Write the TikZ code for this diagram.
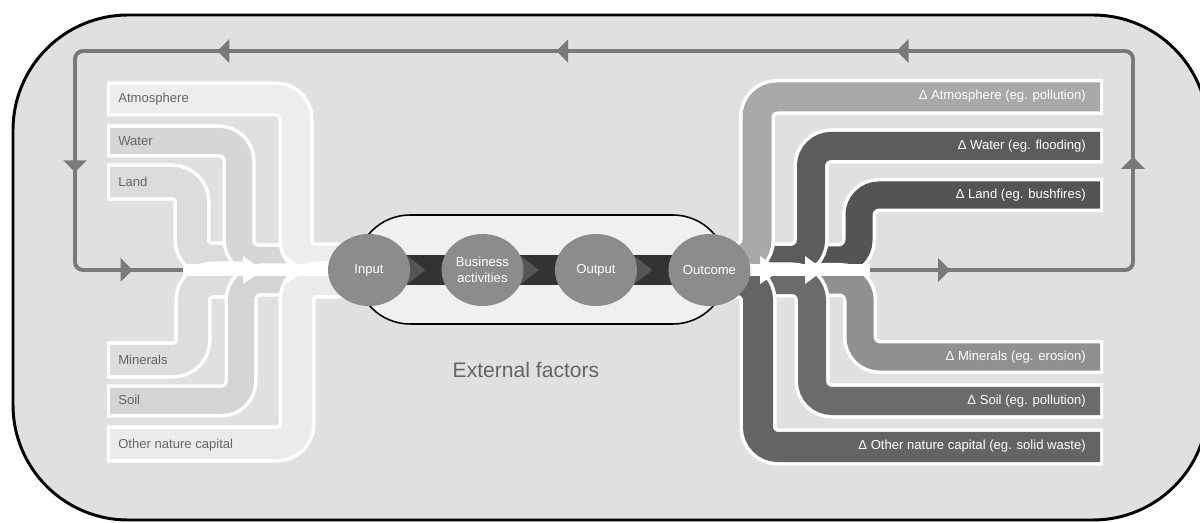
\documentclass[tikz,border=0pt]{standalone}
\usepackage{fontspec}
\setmainfont{Liberation Sans}
\usetikzlibrary{arrows.meta,calc,positioning,shapes.geometric,decorations.markings,backgrounds}

\definecolor{boxfill}{HTML}{E0E0E0}
\definecolor{loopgray}{HTML}{7A7A7A}
\definecolor{stagegray}{HTML}{8C8C8C}
\definecolor{darkband}{HTML}{333333}
\definecolor{chevgray}{HTML}{555555}
\definecolor{capsfill}{HTML}{F0F0F0}
\definecolor{labelgray}{HTML}{666666}
% inflow colours
\definecolor{inatmo}{HTML}{EDEDED}
\definecolor{inwater}{HTML}{D6D6D6}
\definecolor{inland}{HTML}{DCDCDC}
\definecolor{inmineral}{HTML}{DDDDDD}
\definecolor{insoil}{HTML}{D4D4D4}
\definecolor{inother}{HTML}{EBEBEB}
% outflow colours
\definecolor{outatmo}{HTML}{A9A9A9}
\definecolor{outwater}{HTML}{5C5C5C}
\definecolor{outland}{HTML}{545454}
\definecolor{outmineral}{HTML}{909090}
\definecolor{outsoil}{HTML}{6B6B6B}
\definecolor{outother}{HTML}{646464}

\tikzset{
  outerbox/.style={draw=black, fill=boxfill, line width=2.1pt, rounded corners=81.8pt},
  loopline/.style={draw=loopgray, line width=2.8pt, rounded corners=5.7pt,
    decoration={markings,
      mark=at position 57pt with {\arrow{Triangle[length=8.5pt,width=16.4pt,color=loopgray]}},
      mark=at position 265pt with {\arrow{Triangle[length=8.5pt,width=16.4pt,color=loopgray]}},
      mark=at position 506pt with {\arrow{Triangle[length=8.5pt,width=16.4pt,color=loopgray]}},
      mark=at position 748pt with {\arrow{Triangle[length=8.5pt,width=16.4pt,color=loopgray]}},
      mark=at position 989pt with {\arrow{Triangle[length=8.5pt,width=16.4pt,color=loopgray]}},
      mark=at position 1174pt with {\arrow{Triangle[length=8.5pt,width=16.4pt,color=loopgray]}},
      mark=at position 1282pt with {\arrow{Triangle[length=8.5pt,width=16.4pt,color=loopgray]}}},
    postaction={decorate}},
  capsule/.style={draw=black, fill=capsfill, line width=1.1pt, rounded corners=38.5pt},
  stage/.style={ellipse, fill=stagegray, text=white, minimum width=58.3pt, minimum height=51.2pt,
    inner sep=0pt, align=center, font=\fontsize{9.3}{11.2}\selectfont},
  inlabel/.style={anchor=west, text=labelgray, inner sep=0pt, font=\fontsize{9.3}{11}\selectfont},
  outlabel/.style={anchor=east, text=white, inner sep=0pt, font=\fontsize{9.3}{11}\selectfont},
  extlabel/.style={text=labelgray, inner sep=0pt, font=\fontsize{15}{18}\selectfont},
}

% band: colour, width (px), row y, bend x, stub y, stub end x
\newcommand{\inband}[6]{%
  \draw[white, line width=(#2+7)*0.7113pt, rounded corners=14.2pt] (107,#3) -| (#4,#5) -- (#6,#5);
  \draw[#1, line width=#2*0.7113pt, rounded corners=14.2pt] (110,#3) -| (#4,#5) -- (#6,#5);}
\newcommand{\outband}[6]{%
  \draw[white, line width=(#2+7)*0.7113pt, rounded corners=14.2pt] (1103,#3) -| (#4,#5) -- (#6,#5);
  \draw[#1, line width=#2*0.7113pt, rounded corners=14.2pt] (1100,#3) -| (#4,#5) -- (#6,#5);}

\begin{document}
\begin{tikzpicture}[x=0.025cm, y=-0.025cm]
\useasboundingbox (0,0) rectangle (1200,523);

\begin{scope}[on background layer]
% outer frame
\draw[outerbox] (13,15) rectangle (1208,520);

% feedback loop
\coordinate (loopout) at (870,270);
\coordinate (loopin) at (183,270);
\draw[loopline] (loopout) -- (1133,270) -- (1133,51) -- (75,51) -- (75,270) -- (loopin);

% nature capital in
\inband{inland}{30}{182}{192}{260}{248}
\inband{inwater}{26}{141}{239}{260}{292}
\inband{inatmo}{28}{99}{296}{260}{345}
\inband{inmineral}{30}{360}{193}{280}{248}
\inband{insoil}{26}{401}{241}{280}{292}
\inband{inother}{30}{444}{297}{280}{345}

% impacts out
\outband{outland}{27}{195}{859}{260}{812}
\outband{outwater}{28}{146}{811}{260}{766}
\outband{outatmo}{29}{97}{757}{260}{735}
\outband{outmineral}{27}{357}{860}{280}{812}
\outband{outsoil}{28}{401}{812}{280}{766}
\outband{outother}{30}{447}{758}{280}{735}

% white merge channels
\fill[white] ($(loopin)+(0,-6)$) rectangle (345,276);
\fill[white] (243,256) -- (263,270) -- (243,284) -- cycle;
\fill[white] (286,256) -- (307,270) -- (286,284) -- cycle;
\fill[white] (735,264) rectangle ($(loopout)+(0,6)$);
\fill[white] (760,256) -- (781,270) -- (760,284) -- cycle;
\fill[white] (805,256) -- (824,270) -- (805,284) -- cycle;

% external factors capsule
\draw[capsule] (356,215) rectangle (727,324);
\end{scope}

% stages
\node[stage] (input) at (369,270) {Input};
\node[stage, right=22pt of input] (business) {Business\\activities};
\node[stage, right=22pt of business] (output) {Output};
\node[stage, right=22pt of output] (outcome) {Outcome};

\begin{scope}[on background layer]
\fill[darkband] ($(input.center)+(0,-15)$) rectangle ($(outcome.center)+(0,15)$);
\foreach \s in {input,business,output}
  \fill[chevgray] ($(\s.center)+(0,-15)$) -- ($(\s.east)+(-4,-15)$) -- ($(\s.east)+(15,0)$)
    -- ($(\s.east)+(-4,15)$) -- ($(\s.center)+(0,15)$) -- cycle;
\end{scope}

% labels
\node[inlabel] (atmolabel) at (118,99) {Atmosphere};
\node[inlabel] (waterlabel) at (118,141) {Water};
\node[inlabel] (landlabel) at (118,182) {Land};
\node[inlabel] (minerallabel) at (118,360) {Minerals};
\node[inlabel] (soillabel) at (118,400) {Soil};
\node[inlabel] (otherlabel) at (118,445) {Other nature capital};

\node[outlabel] (atmoimpact) at (1086,96) {Δ Atmosphere (eg. pollution)};
\node[outlabel] (waterimpact) at (1086,146) {Δ Water (eg. flooding)};
\node[outlabel] (landimpact) at (1086,195) {Δ Land (eg. bushfires)};
\node[outlabel] (mineralimpact) at (1086,357) {Δ Minerals (eg. erosion)};
\node[outlabel] (soilimpact) at (1086,401) {Δ Soil (eg. pollution)};
\node[outlabel] (otherimpact) at (1086,446) {Δ Other nature capital (eg. solid waste)};

\node[extlabel] (external) at (526,370) {External factors};

\end{tikzpicture}
\end{document}
